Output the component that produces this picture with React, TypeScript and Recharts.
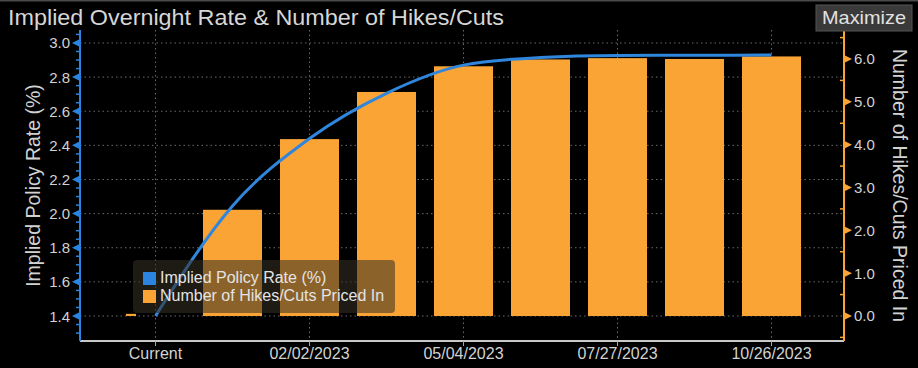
import React from 'react';
import { ComposedChart, Bar, Line, XAxis, YAxis, CartesianGrid, Legend } from 'recharts';

// ---- data ----
const meetingDates = ['Current', '12/08/2022', '02/02/2023', '03/16/2023', '05/04/2023', '06/08/2023', '07/27/2023', '09/07/2023', '10/26/2023'];
const impliedPolicyRate = [1.4, 2.045, 2.44, 2.705, 2.87, 2.915, 2.927, 2.928, 2.929];
const hikesCutsPricedIn = [0.05, 2.48, 4.13, 5.23, 5.83, 5.99, 6.02, 6.0, 6.06];
const xTickLabels = ['Current', '02/02/2023', '05/04/2023', '07/27/2023', '10/26/2023'];

const leftAxisTicks = [1.3, 1.35, 1.4, 1.45, 1.5, 1.55, 1.6, 1.65, 1.7, 1.75, 1.8, 1.85, 1.9, 1.95, 2.0, 2.05, 2.1, 2.15, 2.2, 2.25, 2.3, 2.35, 2.4, 2.45, 2.5, 2.55, 2.6, 2.65, 2.7, 2.75, 2.8, 2.85, 2.9, 2.95, 3.0, 3.05];
const leftMajorTicks = [1.4, 1.6, 1.8, 2.0, 2.2, 2.4, 2.6, 2.8, 3.0];
const rightAxisTicks = [-0.5, 0, 0.5, 1, 1.5, 2, 2.5, 3, 3.5, 4, 4.5, 5, 5.5, 6, 6.5];
const rightMajorTicks = [0, 1, 2, 3, 4, 5, 6];
const leftDomain = [1.2535, 3.076];
const rightDomain = [-0.584, 6.677];

const seriesNames = ['Implied Policy Rate (%)', 'Number of Hikes/Cuts Priced In'];

const data = meetingDates.map((d, i) => ({
  date: d,
  rate: impliedPolicyRate[i],
  hikes: hikesCutsPricedIn[i],
}));

// ---- styles ----
const FONT = '"Liberation Sans", Arial, sans-serif';
const BLUE = '#2A84E0';
const LINE_BLUE = '#2F86DC';
const ORANGE = '#F9A434';
const TEXT = '#d2d2d2';
const GRID = '#6a6a6a';

const isMajor = (list: number[], v: number) => list.some((m) => Math.abs(m - v) < 1e-6);

const LeftTick = (props: any) => {
  const { x, y, payload } = props;
  const v = payload.value as number;
  if (!isMajor(leftMajorTicks, v)) {
    return <line x1={x - 4} x2={x} y1={y} y2={y} stroke={BLUE} strokeWidth={1.5} />;
  }
  return (
    <g>
      <polygon points={`${x},${y - 4} ${x},${y + 4} ${x - 8},${y}`} fill={BLUE} />
      <text x={x - 10} y={y} textAnchor="end" dominantBaseline="central" fill={TEXT} fontSize={15} fontFamily={FONT}>
        {v.toFixed(1)}
      </text>
    </g>
  );
};

const RightTick = (props: any) => {
  const { x, y, payload } = props;
  const v = payload.value as number;
  if (!isMajor(rightMajorTicks, v)) {
    return <line x1={x - 4} x2={x} y1={y} y2={y} stroke={ORANGE} strokeWidth={1.5} />;
  }
  return (
    <g>
      <polygon points={`${x},${y - 4} ${x},${y + 4} ${x + 8},${y}`} fill={ORANGE} />
      <text x={x + 10} y={y} textAnchor="start" dominantBaseline="central" fill={TEXT} fontSize={15} fontFamily={FONT}>
        {v.toFixed(1)}
      </text>
    </g>
  );
};

const LeftTitle = (props: any) => {
  const vb = props.viewBox || { x: 0, y: 30, width: 80, height: 311 };
  const cx = vb.x + 33;
  const cy = vb.y + vb.height / 2;
  return (
    <text x={cx} y={cy} transform={`rotate(-90 ${cx} ${cy})`} textAnchor="middle" dominantBaseline="central" fill={TEXT} fontSize={19.5} fontFamily={FONT}>
      {seriesNames[0]}
    </text>
  );
};

const RightTitle = (props: any) => {
  const vb = props.viewBox || { x: 844, y: 30, width: 74, height: 311 };
  const cx = vb.x + 56;
  const cy = vb.y + vb.height / 2;
  return (
    <text x={cx} y={cy} transform={`rotate(90 ${cx} ${cy})`} textAnchor="middle" dominantBaseline="central" fill={TEXT} fontSize={19.5} fontFamily={FONT}>
      {seriesNames[1]}
    </text>
  );
};

const HikeBar = (props: any) => {
  const { x, y, width, height, index, fill } = props;
  if (height == null || width == null) return null;
  const w = index === 0 ? Math.min(width, 10) : width;
  return <rect x={x} y={y} width={w} height={Math.max(height, 0)} fill={fill} />;
};

const LegendContent = (props: any) => {
  const payload = (props.payload || []) as any[];
  const items = seriesNames.map((n, i) => {
    const p = payload.find((e) => e.value === n);
    return { name: n, color: p ? p.color : i === 0 ? BLUE : ORANGE };
  });
  return (
    <div
      style={{
        background: 'rgba(54,47,36,0.56)',
        borderRadius: 4,
        width: 262,
        height: 53,
        boxSizing: 'border-box',
        paddingTop: 9,
        paddingLeft: 10,
      }}
    >
      {items.map((it) => (
        <div key={it.name} style={{ display: 'flex', alignItems: 'center', height: 18 }}>
          <div style={{ width: 13, height: 13, background: it.color === LINE_BLUE ? BLUE : it.color, marginRight: 4 }} />
          <span style={{ color: '#e4e4e4', fontSize: 16, fontFamily: FONT, whiteSpace: 'nowrap', lineHeight: '18px' }}>{it.name}</span>
        </div>
      ))}
    </div>
  );
};

export default function App() {
  return (
    <div style={{ position: 'absolute', left: 0, top: 0, width: 918, height: 368, background: '#000', overflow: 'hidden' }}>
      <div style={{ position: 'absolute', left: 0, top: 0 }}>
        <ComposedChart width={918} height={368} data={data} margin={{ top: 30, right: 0, bottom: 0, left: 0 }}>
          <CartesianGrid yAxisId="left" horizontalValues={leftMajorTicks} stroke={GRID} strokeDasharray="1.5 3" />
          <XAxis
            dataKey="date"
            type="category"
            ticks={xTickLabels}
            interval={0}
            height={27}
            padding={{ left: 37, right: 34 }}
            axisLine={{ stroke: '#c8c8c8', strokeWidth: 2 }}
            tickLine={{ stroke: '#a8a8a8' }}
            tickSize={5}
            tickMargin={2}
            tick={{ fill: TEXT, fontSize: 16, fontFamily: FONT }}
          />
          <YAxis
            yAxisId="left"
            orientation="left"
            type="number"
            domain={leftDomain}
            ticks={leftAxisTicks}
            interval={0}
            width={80}
            tickSize={0}
            tickMargin={0}
            tickLine={false}
            axisLine={{ stroke: BLUE, strokeWidth: 2 }}
            tick={<LeftTick />}
            label={{ content: <LeftTitle /> }}
            allowDataOverflow
          />
          <YAxis
            yAxisId="right"
            orientation="right"
            type="number"
            domain={rightDomain}
            ticks={rightAxisTicks}
            interval={0}
            width={74}
            tickSize={0}
            tickMargin={0}
            tickLine={false}
            axisLine={{ stroke: ORANGE, strokeWidth: 2 }}
            tick={<RightTick />}
            label={{ content: <RightTitle /> }}
            allowDataOverflow
          />
          <Bar yAxisId="right" dataKey="hikes" name={seriesNames[1]} fill={ORANGE} barSize={59} shape={<HikeBar />} isAnimationActive={false} />
          <Line yAxisId="left" dataKey="rate" name={seriesNames[0]} type="monotone" stroke={LINE_BLUE} strokeWidth={3} dot={false} activeDot={false} isAnimationActive={false} />
          <Legend
            layout="vertical"
            align="center"
            verticalAlign="middle"
            wrapperStyle={{ left: 133, top: 260, width: 262, height: 53 }}
            content={<LegendContent />}
          />
        </ComposedChart>
      </div>
      <svg width={918} height={40} style={{ position: 'absolute', left: 0, top: 0, pointerEvents: 'none' }}>
        <rect x={0} y={0} width={918} height={1.5} fill="#4a4a4a" />
        <text x={8} y={25} fontSize={22} fontFamily={FONT} fill="#d6d6d6" textLength={496} lengthAdjust="spacingAndGlyphs">
          Implied Overnight Rate &amp; Number of Hikes/Cuts
        </text>
        <rect x={816} y={5} width={96} height={26} fill="#3a3a3a" stroke="#555" strokeWidth={1} />
        <text x={822} y={24} fontSize={19} fontFamily={FONT} fill="#e2e2e2" textLength={84} lengthAdjust="spacingAndGlyphs">
          Maximize
        </text>
      </svg>
    </div>
  );
}
